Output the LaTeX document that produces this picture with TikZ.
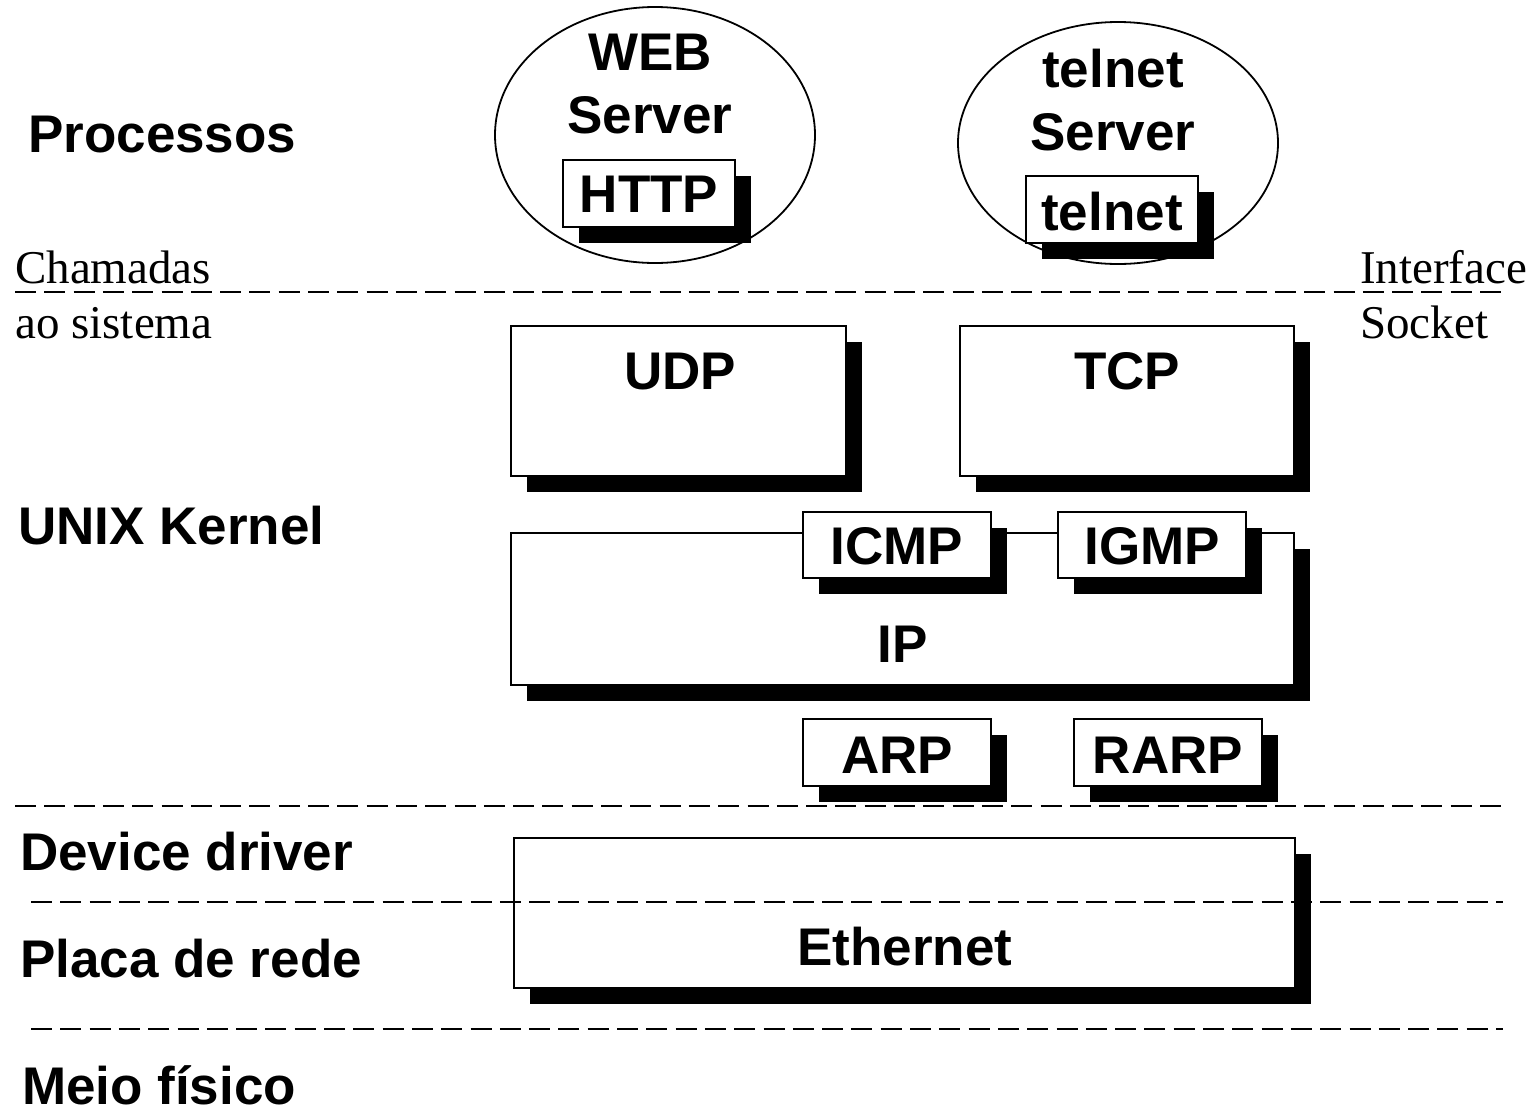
\documentclass[tikz,border=0pt]{standalone}
\usepackage{fontspec}
\setmainfont{Liberation Serif}
\newfontfamily\sansbold{Liberation Sans}[BoldFont={Liberation Sans Bold}]
\usetikzlibrary{shadows,shapes.geometric}
\begin{document}
\begin{tikzpicture}[x=1pt,y=-1pt,
  bigtext/.style={inner sep=0pt,font=\sansbold\bfseries\fontsize{53}{60}\selectfont},
  serif/.style={inner sep=0pt,anchor=base west,font=\fontsize{47}{54}\selectfont},
  boxs/.style={draw,line width=1.8pt,fill=white,rectangle,inner sep=0pt,
    drop shadow={shadow xshift=16pt,shadow yshift=-16pt,opacity=1,fill=black}},
  proc/.style={draw,line width=1.8pt,ellipse,inner sep=0pt},
  layer/.style={line width=2.6pt,dash pattern=on 21pt off 8.3pt}]
\useasboundingbox (0,0) rectangle (1540,1112);
\fill[white] (0,0) rectangle (1540,1112);
% processes
\node[proc,minimum width=320pt,minimum height=256pt] (web) at (655,135) {};
\node[proc,minimum width=320pt,minimum height=242pt] (tel) at (1118,143) {};
\node[boxs,minimum width=172pt,minimum height=67pt] (http) at (649,193.5) {};
\node[boxs,minimum width=172pt,minimum height=67pt] (telb) at (1112,209.5) {};
% kernel
\node[boxs,minimum width=335pt,minimum height=150pt] (udp) at (678.5,401) {};
\node[boxs,minimum width=334pt,minimum height=150pt] (tcp) at (1127,401) {};
\node[boxs,minimum width=783pt,minimum height=152pt] (ip) at (902.5,609) {};
\node[boxs,minimum width=188pt,minimum height=66pt] (icmp) at (897,545) {};
\node[boxs,minimum width=188pt,minimum height=66pt] (igmp) at (1152,545) {};
\node[boxs,minimum width=188pt,minimum height=67pt] (arp) at (897,752.5) {};
\node[boxs,minimum width=188pt,minimum height=67pt] (rarp) at (1168,752.5) {};
\node[boxs,minimum width=781pt,minimum height=150pt] (eth) at (904.5,913) {};
% dashed layer lines
\coordinate (l1a) at (15,292); \coordinate (l1b) at (1503,292);
\coordinate (l2a) at (15,806); \coordinate (l2b) at (1503,806);
\coordinate (l3a) at (31,902); \coordinate (l3b) at (1503,902);
\coordinate (l4a) at (31,1029); \coordinate (l4b) at (1503,1029);
\draw[layer] (l1a) -- (l1b);
\draw[layer] (l2a) -- (l2b);
\draw[layer] (l3a) -- (l3b);
\draw[layer] (l4a) -- (l4b);
% texts in boxes
\node[bigtext,anchor=base] (tweb) at (650,70) {WEB};
\node[bigtext,anchor=base] (tws) at (650,133) {Server};
\node[bigtext,anchor=base] (thttp) at (649,212) {HTTP};
\node[bigtext,anchor=base] (ttel) at (1113,87) {telnet};
\node[bigtext,anchor=base] (tts) at (1113,150) {Server};
\node[bigtext,anchor=base] (ttelb) at (1112,230) {telnet};
\node[bigtext,anchor=base] (tudp) at (680,389) {UDP};
\node[bigtext,anchor=base] (ttcp) at (1127,389) {TCP};
\node[bigtext,anchor=base] (tip) at (903,662) {IP};
\node[bigtext,anchor=base] (ticmp) at (897,564) {ICMP};
\node[bigtext,anchor=base] (tigmp) at (1152,564) {IGMP};
\node[bigtext,anchor=base] (tarp) at (897,773) {ARP};
\node[bigtext,anchor=base] (trarp) at (1168,773) {RARP};
\node[bigtext,anchor=base] (teth) at (905,965) {Ethernet};
% left labels
\node[bigtext,anchor=base west] (proc) at (28,152) {Processos};
\node[bigtext,anchor=base west] (unix) at (18,544) {UNIX Kernel};
\node[bigtext,anchor=base west] (dev) at (20,870) {Device driver};
\node[bigtext,anchor=base west] (placa) at (20,977) {Placa de rede};
\node[bigtext,anchor=base west,text depth=0pt] (meio) at (22,1104) {Meio físico};
% serif labels
\node[serif] (cham) at (15,283) {Chamadas};
\node[serif] (aosis) at (15,338) {ao sistema};
\node[serif] (intf) at (1360,283) {Interface};
\node[serif] (sock) at (1360,338) {Socket};
\end{tikzpicture}
\end{document}
